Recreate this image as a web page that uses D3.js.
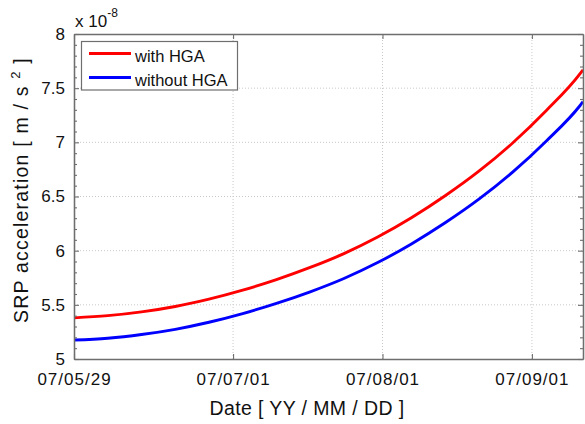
<!DOCTYPE html>
<html>
<head>
<meta charset="utf-8">
<script src="https://cdn.jsdelivr.net/npm/d3@7"></script>
<style>
  html, body { margin: 0; padding: 0; background: #fff; }
  svg { display: block; font-family: "Liberation Sans", Arial, Helvetica, sans-serif; }
</style>
</head>
<body>
<svg id="chart" width="585" height="424"></svg>
<script>
// Sample dates (weekly, plus the final epoch) and SRP acceleration in units of 1e-8 m/s^2
const dates = [
  "2007-05-29T00:00", "2007-06-05T00:00", "2007-06-12T00:00", "2007-06-19T00:00",
  "2007-06-26T00:00", "2007-07-03T00:00", "2007-07-10T00:00", "2007-07-17T00:00",
  "2007-07-24T00:00", "2007-07-31T00:00", "2007-08-07T00:00", "2007-08-14T00:00",
  "2007-08-21T00:00", "2007-08-28T00:00", "2007-09-04T00:00", "2007-09-11T00:00",
  "2007-09-11T14:24"
];
const withHGA = [
  5.380, 5.400, 5.435, 5.485, 5.553, 5.636, 5.733, 5.845,
  5.973, 6.126, 6.304, 6.507, 6.734, 6.994, 7.294, 7.634, 7.670
];
const withoutHGA = [
  5.175, 5.192, 5.226, 5.274, 5.339, 5.419, 5.513, 5.620,
  5.743, 5.890, 6.062, 6.257, 6.475, 6.725, 7.013, 7.340, 7.375
];
const seriesNames = ["with HGA", "without HGA"];
const seriesColors = ["#ff0000", "#0000ff"];

const xTickDates = ["2007-05-29T00:00", "2007-07-01T00:00", "2007-08-01T00:00", "2007-09-01T00:00"];
const xTickLabels = ["07/05/29", "07/07/01", "07/08/01", "07/09/01"];
const yTicks = [5, 5.5, 6, 6.5, 7, 7.5, 8];
const yTickLabels = ["5", "5.5", "6", "6.5", "7", "7.5", "8"];

(function draw() {
  const parse = d3.isoParse;
  const svg = d3.select("#chart");

  const plotL = 74, plotR = 583, plotT = 34, plotB = 359;
  const x = d3.scaleTime()
    .domain([parse(dates[0]), parse(dates[dates.length - 1])])
    .range([plotL, plotR]);
  const y = d3.scaleLinear().domain([5, 8]).range([plotB, plotT]);

  const axisColor = "#6e6e6e";
  const gridColor = "#c9c9c9";

  // grid lines (dotted)
  const grid = svg.append("g");
  grid.selectAll("line.gx").data(xTickDates.slice(1)).join("line")
    .attr("x1", d => x(parse(d))).attr("x2", d => x(parse(d)))
    .attr("y1", plotT).attr("y2", plotB)
    .attr("stroke", gridColor).attr("stroke-width", 1).attr("stroke-dasharray", "1,2");
  grid.selectAll("line.gy").data(yTicks.slice(1, -1)).join("line")
    .attr("x1", plotL).attr("x2", plotR)
    .attr("y1", d => y(d)).attr("y2", d => y(d))
    .attr("stroke", gridColor).attr("stroke-width", 1).attr("stroke-dasharray", "1,2");

  // data lines
  svg.append("clipPath").attr("id", "plotclip")
    .append("rect").attr("x", plotL).attr("y", plotT)
    .attr("width", plotR - plotL).attr("height", plotB - plotT);

  const line = d3.line()
    .x((d, i) => x(parse(dates[i])))
    .y(d => y(d))
    .curve(d3.curveMonotoneX);

  [withHGA, withoutHGA].forEach((vals, k) => {
    svg.append("path")
      .datum(vals)
      .attr("clip-path", "url(#plotclip)")
      .attr("fill", "none")
      .attr("stroke", seriesColors[k])
      .attr("stroke-width", 2.9)
      .attr("stroke-linejoin", "round")
      .attr("d", line);
  });

  // axes (inward ticks, boxed frame)
  const xTickVals = xTickDates.map(parse);
  const minorY = d3.range(50, 81).map(v => v / 10)
    .filter(v => Math.abs(v * 2 - Math.round(v * 2)) > 1e-6);

  const axB = d3.axisBottom(x).tickValues(xTickVals).tickSizeInner(-5).tickSizeOuter(0)
    .tickFormat((d, i) => xTickLabels[i]).tickPadding(14);
  const axT = d3.axisTop(x).tickValues(xTickVals).tickSizeInner(-5).tickSizeOuter(0).tickFormat("");
  const axL = d3.axisLeft(y).tickValues(yTicks).tickSizeInner(-5).tickSizeOuter(0)
    .tickFormat((d, i) => yTickLabels[i]).tickPadding(14);
  const axR = d3.axisRight(y).tickValues(yTicks).tickSizeInner(-5).tickSizeOuter(0).tickFormat("");
  const axLm = d3.axisLeft(y).tickValues(minorY).tickSizeInner(-3).tickSizeOuter(0).tickFormat("");
  const axRm = d3.axisRight(y).tickValues(minorY).tickSizeInner(-3).tickSizeOuter(0).tickFormat("");

  function styleAxis(g) {
    g.select(".domain").attr("stroke", axisColor).attr("stroke-width", 1.3);
    g.selectAll(".tick line").attr("stroke", axisColor).attr("stroke-width", 1.1);
    g.selectAll(".tick text").attr("fill", "#111").attr("font-size", 17)
      .attr("font-family", "'Liberation Sans', Arial, sans-serif");
  }

  svg.append("g").attr("transform", `translate(0,${plotB})`).call(axB).call(styleAxis)
    .selectAll(".tick text").attr("letter-spacing", "1px");
  svg.append("g").attr("transform", `translate(0,${plotT})`).call(axT).call(styleAxis);
  svg.append("g").attr("transform", `translate(${plotL},0)`).call(axLm).call(styleAxis);
  svg.append("g").attr("transform", `translate(${plotR},0)`).call(axRm).call(styleAxis);
  svg.append("g").attr("transform", `translate(${plotL},0)`).call(axL).call(styleAxis)
    .selectAll(".tick text").attr("dx", 5);
  svg.append("g").attr("transform", `translate(${plotR},0)`).call(axR).call(styleAxis);

  // exponent label
  const expo = svg.append("text").attr("x", 75).attr("y", 27)
    .attr("font-size", 17).attr("fill", "#111");
  expo.append("tspan").text("x 10");
  expo.append("tspan").attr("font-size", 12).attr("dy", -10).text("-8");

  // axis titles
  svg.append("text")
    .attr("x", 307).attr("y", 415)
    .attr("text-anchor", "middle")
    .attr("font-size", 19.5).attr("fill", "#111")
    .attr("letter-spacing", "0.4px")
    .text("Date [ YY / MM / DD ]");

  const yl = svg.append("text")
    .attr("transform", "translate(28,190) rotate(-90)")
    .attr("text-anchor", "middle")
    .attr("font-size", 19.5).attr("fill", "#111")
    .attr("letter-spacing", "1.2px");
  yl.append("tspan").text("SRP acceleration [ m / s ");
  yl.append("tspan").attr("font-size", 13).attr("dy", -8).text("2");
  yl.append("tspan").attr("dy", 8).text(" ]");

  // legend
  const lg = svg.append("g");
  lg.append("rect").attr("x", 81.5).attr("y", 41.5).attr("width", 156).attr("height", 48.5)
    .attr("fill", "#fff").attr("stroke", axisColor).attr("stroke-width", 1.2);
  const legY = [53.5, 77.5];
  seriesNames.forEach((name, k) => {
    lg.append("line").attr("x1", 89).attr("x2", 131).attr("y1", legY[k]).attr("y2", legY[k])
      .attr("stroke", seriesColors[k]).attr("stroke-width", 2.8);
    lg.append("text").attr("x", 135).attr("y", legY[k] + 8.5)
      .attr("font-size", 16.5).attr("fill", "#111").text(name);
  });
})();
</script>
</body>
</html>
